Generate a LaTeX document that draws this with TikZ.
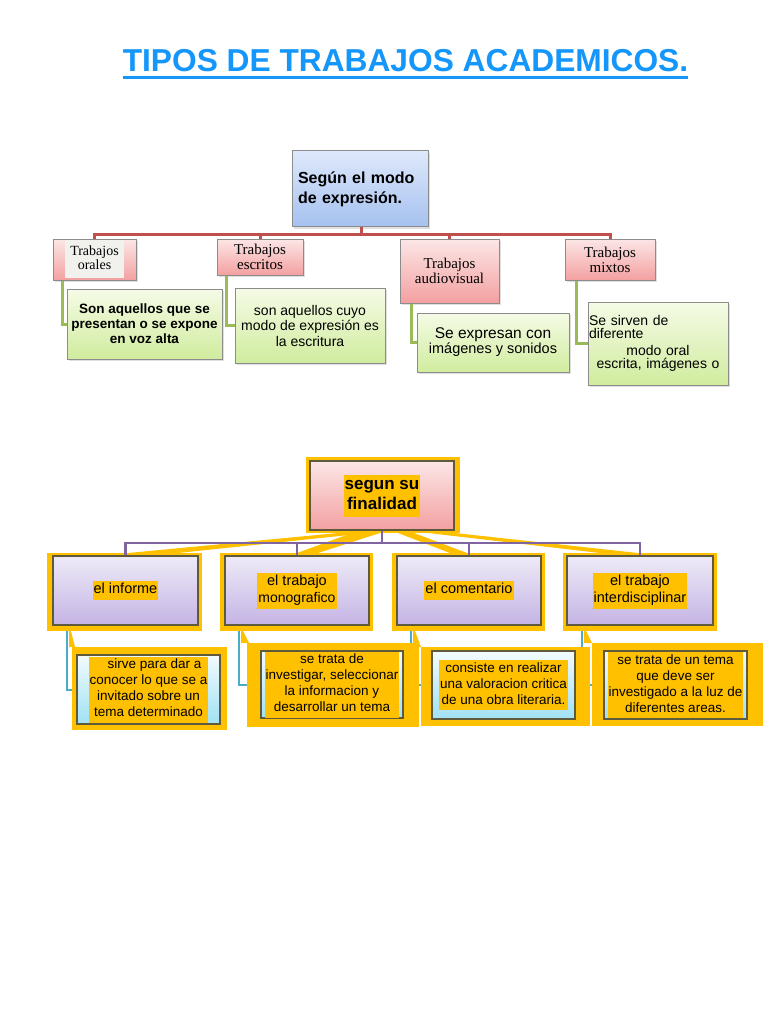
\documentclass[tikz,border=0pt]{standalone}
\usepackage{fontspec}
\setmainfont{Liberation Sans}
\newfontfamily\trabfont{Liberation Serif}
\usepackage{xcolor}
\usepackage{tikz}
\usetikzlibrary{positioning}
\usetikzlibrary{backgrounds,shadows}

\definecolor{titleblue}{RGB}{20,150,250}
\definecolor{redlink}{RGB}{192,80,77}
\definecolor{greenlink}{RGB}{155,187,89}
\definecolor{purplelink}{RGB}{128,100,162}
\definecolor{teallink}{RGB}{75,172,198}
\definecolor{gold}{RGB}{255,192,0}
\definecolor{boxgray}{RGB}{140,140,140}
\definecolor{boxdark}{RGB}{95,90,60}
\definecolor{bluetop}{RGB}{222,232,251}
\definecolor{bluebot}{RGB}{165,193,239}
\definecolor{pinktop}{RGB}{252,230,230}
\definecolor{pinkbot}{RGB}{243,160,160}
\definecolor{greentop}{RGB}{245,251,230}
\definecolor{greenbot}{RGB}{208,236,158}
\definecolor{lilactop}{RGB}{238,234,247}
\definecolor{lilacbot}{RGB}{196,180,228}
\definecolor{cyantop}{RGB}{242,251,254}
\definecolor{cyanbot}{RGB}{160,225,244}
\definecolor{oralgray}{RGB}{241,241,238}

\newcommand{\fs}[2]{\fontsize{#1}{#2}\selectfont}
\newcommand{\goldtext}[1]{{\setlength{\fboxsep}{1pt}\colorbox{gold}{\begin{tabular}{@{}c@{}}#1\end{tabular}}}}

\tikzset{
  box/.style={rectangle, inner sep=0pt, align=center},
  expbox/.style={box, draw=boxgray, line width=1pt, top color=bluetop, bottom color=bluebot,
    drop shadow={opacity=0.25, shadow xshift=2pt, shadow yshift=-2pt}},
  tipobox/.style={box, draw=boxgray, line width=1pt, top color=pinktop, bottom color=pinkbot,
    font=\trabfont\fs{15}{15}, drop shadow={opacity=0.25, shadow xshift=2pt, shadow yshift=-2pt}},
  textobox/.style={box, draw=boxgray, line width=1pt, top color=greentop, bottom color=greenbot,
    drop shadow={opacity=0.25, shadow xshift=2pt, shadow yshift=-2pt}},
  finbox/.style={box, draw=boxdark, line width=1.5pt, top color=pinktop, bottom color=pinkbot,
    font=\fs{17}{20}\bfseries},
  clasebox/.style={box, draw=boxdark, line width=1.5pt, top color=lilactop, bottom color=lilacbot,
    font=\fs{14.5}{17}},
  defbox/.style={box, draw=boxdark, line width=1.5pt, top color=cyantop, bottom color=cyanbot,
    font=\fs{13.5}{16}},
  redline/.style={draw=redlink, line width=3pt},
  greenline/.style={draw=greenlink, line width=3pt},
  purpleline/.style={draw=purplelink, line width=2.5pt},
  tealline/.style={draw=teallink, line width=2pt}
}

\begin{document}
\begin{tikzpicture}[x=1pt, y=-1pt]
  \useasboundingbox (0,0) rectangle (768,1024);

  % --- TITLE ---
  \node[anchor=base, inner sep=0pt, text=titleblue, font=\fs{31.7}{36}\bfseries] (title) at (405.5,72) {TIPOS DE TRABAJOS ACADEMICOS.};
  \draw[titleblue, line width=3.5pt] ([yshift=-5.5pt]title.base west) -- ([yshift=-5.5pt]title.base east);

  % --- SEGUN EL MODO DE EXPRESION ---
  \node[expbox, minimum width=136pt, minimum height=76pt, text width=124pt, align=left,
        font=\fs{16}{20}\bfseries] (sexp) at (360,189) {Según el modo\\ de expresión.};

  \node[tipobox, minimum width=83pt, minimum height=41pt, font=\trabfont\fs{14}{14}] (oral) at (94.5,259.5)
       {{\setlength{\fboxsep}{5pt}\colorbox{oralgray}{\begin{tabular}{@{}c@{}}Trabajos\\orales\end{tabular}}}};
  \node[tipobox, minimum width=86pt, minimum height=36pt] (escr) at (260,257) {Trabajos\\escritos};
  \node[tipobox, minimum width=99pt, minimum height=64pt] (audio) at (449.5,271) {Trabajos\\audiovisual};
  \node[tipobox, minimum width=90pt, minimum height=41pt] (mixt) at (610,259.5) {Trabajos\\mixtos};

  \node[textobox, minimum width=155pt, minimum height=70pt, font=\fs{13.5}{15}\bfseries] (doral) at (144.5,324)
       {Son aquellos que se\\presentan o se expone\\en voz alta};
  \node[textobox, minimum width=150pt, minimum height=75pt, font=\fs{14}{15.5}] (descr) at (310,325.5)
       {son aquellos cuyo\\modo de expresión es\\la escritura};
  \node[textobox, minimum width=152pt, minimum height=59pt] (daudio) at (493,342.5)
       {\fs{15.5}{16}Se expresan con\\\fs{14.5}{16}imágenes y sonidos};
  \node[textobox, minimum width=140pt, minimum height=83pt, text width=138pt, align=left, font=\fs{14}{13}] (dmixt) at (658,343.5)
       {Se sirven de\\diferente\\[4pt]\makebox[138pt]{modo oral}\\\makebox[138pt]{escrita, imágenes o}};

  % red connectors
  \foreach \t in {oral,escr,audio,mixt}
    \draw[redline] ([xshift=1pt]sexp.south) -- ++(0,7) -| (\t.north);
  % green connectors
  \draw[greenline] ([xshift=10pt]oral.south west) |- (doral.west);
  \draw[greenline] ([xshift=10pt]escr.south west) |- (descr.west);
  \draw[greenline] ([xshift=12pt]audio.south west) |- (daudio.west);
  \draw[greenline] ([xshift=12pt]mixt.south west) |- (dmixt.west);

  % --- SEGUN SU FINALIDAD ---
  \node[finbox, minimum width=144pt, minimum height=69pt] (sfin) at (382,495.5) {\goldtext{segun su\\finalidad}};

  \node[clasebox, minimum width=145pt, minimum height=69pt] (inf) at (125.5,590.5) {\goldtext{el informe}};
  \node[clasebox, minimum width=144pt, minimum height=69pt] (mono) at (297,590.5) {\goldtext{el trabajo\\\fs{14}{17}monografico}};
  \node[clasebox, minimum width=144pt, minimum height=69pt] (com) at (469,590.5) {\goldtext{el comentario}};
  \node[clasebox, minimum width=146pt, minimum height=69pt] (inter) at (640,590.5) {\goldtext{el trabajo\\interdisciplinar}};

  \node[defbox, minimum width=143pt, minimum height=69pt] (dinf) at (148.5,689.5)
       {\goldtext{\hspace*{12pt}sirve para dar a\\conocer lo que se a\\invitado sobre un\\tema determinado}};
  \node[defbox, minimum width=142pt, minimum height=67pt] (dmono) at (332,684.5)
       {\goldtext{se trata de\\investigar, seleccionar\\la informacion y\\desarrollar un tema}};
  \node[defbox, minimum width=143pt, minimum height=68pt] (dcom) at (503.5,685)
       {\goldtext{consiste en realizar\\una valoracion critica\\de una obra literaria.}};
  \node[defbox, minimum width=143pt, minimum height=68pt] (dinter) at (675.5,685)
       {\goldtext{se trata de un tema\\que deve ser\\investigado a la luz de\\diferentes areas.}};

  % purple connectors
  \foreach \t in {inf,mono,com,inter}
    \draw[purpleline] (sfin.south) -- ++(0,12) -| (\t.north);

  \begin{scope}[on background layer]
    \fill[white] (0,0) rectangle (768,1024);
    % teal connectors
    \draw[tealline] ([xshift=15pt]inf.south west) |- (dinf.west);
    \draw[tealline] ([xshift=15pt]mono.south west) |- (dmono.west);
    \draw[tealline] ([xshift=15pt]com.south west) |- (dcom.west);
    \draw[tealline] ([xshift=16pt]inter.south west) |- (dinter.west);
    % gold frames
    \fill[gold] (306,457) rectangle (460,533);
    \fill[gold] (47,553) rectangle (202,631);
    \fill[gold] (220,553) rectangle (373,631);
    \fill[gold] (392,553) rectangle (545,631);
    \fill[gold] (563,553) rectangle (717,631);
    \fill[gold] (72,647) rectangle (227,730);
    \fill[gold] (247,643) rectangle (419,727);
    \fill[gold] (421,647) rectangle (590,726);
    \fill[gold] (592,643) rectangle (763,726);
    % gold wedges
    \fill[gold] (338,533) -- (368,533) -- (178,553) -- (128,553) -- cycle;
    \fill[gold] (352,533) -- (380,533) -- (318,553) -- (297,553) -- cycle;
    \fill[gold] (398,533) -- (414,533) -- (467,553) -- (450,553) -- cycle;
    \fill[gold] (428,533) -- (455,533) -- (638,553) -- (600,553) -- cycle;
    \fill[gold] (69,631) -- (71,631) -- (75,647) -- (69,647) -- cycle;
    \fill[gold] (241,631) -- (243,631) -- (249,643) -- (241,643) -- cycle;
    \fill[gold] (413,631) -- (415,631) -- (421,647) -- (413,647) -- cycle;
    \fill[gold] (584,631) -- (586,631) -- (592,643) -- (584,643) -- cycle;
  \end{scope}
\end{tikzpicture}
\end{document}
